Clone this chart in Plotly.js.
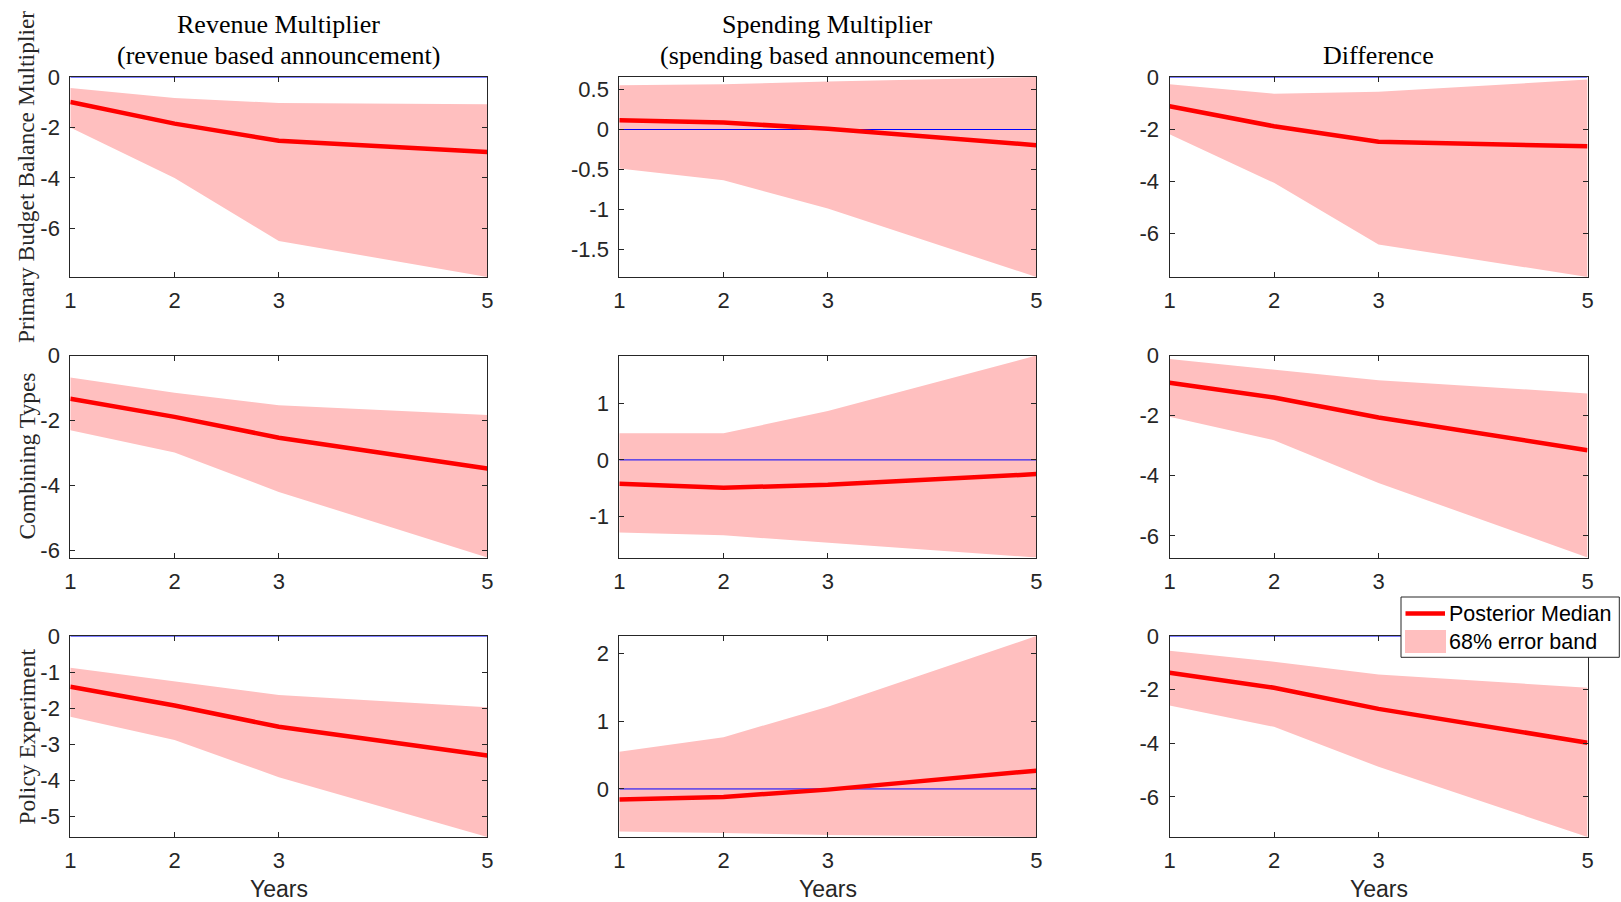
<!DOCTYPE html>
<html>
<head>
<meta charset="utf-8">
<script src="https://cdn.plot.ly/plotly-3.0.1.min.js"></script>
<style>html,body{margin:0;padding:0;background:#fff;}#chart{width:1621px;height:902px;}</style>
</head>
<body>
<div id="chart"></div>
<script>
// ---------------- DATA ----------------
const years = [1, 2, 3, 5];
const xTicks = [1, 2, 3, 5];

const colTitles = [
  ["Revenue Multiplier", "(revenue based announcement)"],
  ["Spending Multiplier", "(spending based announcement)"],
  ["", "Difference"]
];
const rowTitles = ["Primary Budget Balance Multiplier", "Combining Types", "Policy Experiment"];
const xLabel = "Years";
const legendLabels = ["Posterior Median", "68% error band"];

// Row 1: Primary Budget Balance Multiplier
const rev1_med = [-0.99, -1.85, -2.53, -2.97];
const rev1_lo  = [-2.00, -4.00, -6.50, -7.93];
const rev1_hi  = [-0.44, -0.83, -1.03, -1.08];
const spd1_med = [0.116, 0.087, 0.008, -0.196];
const spd1_lo  = [-0.488, -0.634, -0.99, -1.846];
const spd1_hi  = [0.554, 0.566, 0.600, 0.657];
const dif1_med = [-1.12, -1.89, -2.48, -2.66];
const dif1_lo  = [-2.20, -4.06, -6.42, -7.67];
const dif1_hi  = [-0.28, -0.64, -0.57, -0.10];

// Row 2: Combining Types
const rev2_med = [-1.33, -1.89, -2.53, -3.48];
const rev2_lo  = [-2.30, -2.99, -4.20, -6.22];
const rev2_hi  = [-0.68, -1.15, -1.53, -1.83];
const spd2_med = [-0.42, -0.49, -0.44, -0.25];
const spd2_lo  = [-1.28, -1.33, -1.46, -1.72];
const spd2_hi  = [0.47, 0.47, 0.86, 1.84];
const dif2_med = [-0.91, -1.40, -2.06, -3.15];
const dif2_lo  = [-2.04, -2.82, -4.24, -6.72];
const dif2_hi  = [-0.12, -0.47, -0.82, -1.26];

// Row 3: Policy Experiment
const rev3_med = [-1.41, -1.93, -2.52, -3.32];
const rev3_lo  = [-2.24, -2.89, -3.92, -5.58];
const rev3_hi  = [-0.88, -1.27, -1.64, -1.98];
const spd3_med = [-0.157, -0.118, -0.01, 0.27];
const spd3_lo  = [-0.63, -0.65, -0.68, -0.71];
const spd3_hi  = [0.55, 0.765, 1.215, 2.26];
const dif3_med = [-1.37, -1.93, -2.72, -3.98];
const dif3_lo  = [-2.59, -3.39, -4.88, -7.50];
const dif3_hi  = [-0.55, -0.96, -1.44, -1.93];

// y tick values per panel
const yt_r1c1 = [-6, -4, -2, 0];
const yt_r1c2 = [-1.5, -1, -0.5, 0, 0.5];
const yt_r1c3 = [-6, -4, -2, 0];
const yt_r2c1 = [-6, -4, -2, 0];
const yt_r2c2 = [-1, 0, 1];
const yt_r2c3 = [-6, -4, -2, 0];
const yt_r3c1 = [-5, -4, -3, -2, -1, 0];
const yt_r3c2 = [0, 1, 2];
const yt_r3c3 = [-6, -4, -2, 0];

// ---------------- BUILD ----------------
const panels = [
  [rev1_med, rev1_lo, rev1_hi, yt_r1c1], [spd1_med, spd1_lo, spd1_hi, yt_r1c2], [dif1_med, dif1_lo, dif1_hi, yt_r1c3],
  [rev2_med, rev2_lo, rev2_hi, yt_r2c1], [spd2_med, spd2_lo, spd2_hi, yt_r2c2], [dif2_med, dif2_lo, dif2_hi, yt_r2c3],
  [rev3_med, rev3_lo, rev3_hi, yt_r3c1], [spd3_med, spd3_lo, spd3_hi, yt_r3c2], [dif3_med, dif3_lo, dif3_hi, yt_r3c3]
];

const W = 1621, H = 902;
const colPx = [[70.3, 487.3], [619.3, 1036.3], [1169.5, 1587.5]];
const rowPx = [[77, 277], [355.5, 557.5], [636, 837]];
const px = p => p / W;
const py = p => 1 - p / H;

const AXC = '#262626';
const SANS = 'Liberation Sans, Arial, sans-serif';
const TICKFONT = {family: SANS, size: 22, color: AXC};
const SERIF = 'Liberation Serif, Times New Roman, serif';

const traces = [];
const layout = {
  width: W, height: H,
  margin: {l: 0, r: 0, t: 0, b: 0},
  paper_bgcolor: '#fff', plot_bgcolor: '#fff',
  showlegend: false,
  annotations: [], shapes: []
};

panels.forEach((p, k) => {
  const [med, lo, hi, yt] = p;
  const r = Math.floor(k / 3), c = k % 3;
  const id = k + 1;
  const xa = 'x' + id, ya = 'y' + id;
  const xs = years.concat(years.slice().reverse());
  const ys = hi.concat(lo.slice().reverse());
  traces.push({type: 'scatter', mode: 'lines', x: xs, y: ys, fill: 'toself',
    fillcolor: 'rgb(255,191,191)', line: {width: 0, color: 'rgba(0,0,0,0)'},
    xaxis: xa, yaxis: ya, hoverinfo: 'skip'});
  traces.push({type: 'scatter', mode: 'lines', x: [years[0], years[years.length - 1]], y: [0, 0],
    line: {color: '#0000ff', width: 1}, xaxis: xa, yaxis: ya, hoverinfo: 'skip'});
  traces.push({type: 'scatter', mode: 'lines', x: years, y: med,
    line: {color: '#ff0000', width: 4.5}, xaxis: xa, yaxis: ya});

  const ymin = Math.min(...lo);
  const ymax = Math.max(Math.max(...hi), 0);
  const xkey = 'xaxis' + (id === 1 ? '' : id);
  const ykey = 'yaxis' + (id === 1 ? '' : id);
  layout[xkey] = {
    domain: [px(colPx[c][0]), px(colPx[c][1])], anchor: ya,
    range: [years[0], years[years.length - 1]],
    tickvals: xTicks, ticktext: xTicks.map(String),
    ticks: 'inside', ticklen: 5, tickcolor: AXC, tickwidth: 1,
    showline: true, linecolor: AXC, linewidth: 1, mirror: 'ticks',
    showgrid: false, zeroline: false, tickfont: TICKFONT, ticklabelstandoff: 4
  };
  layout[ykey] = {
    domain: [py(rowPx[r][1]), py(rowPx[r][0])], anchor: xa,
    range: [ymin, ymax],
    tickvals: yt, ticktext: yt.map(String),
    ticks: 'inside', ticklen: 5, tickcolor: AXC, tickwidth: 1,
    showline: true, linecolor: AXC, linewidth: 1, mirror: 'ticks',
    showgrid: false, zeroline: false, tickfont: TICKFONT, ticklabelstandoff: 5
  };
});

// column titles
colTitles.forEach((t, c) => {
  const cx = px((colPx[c][0] + colPx[c][1]) / 2);
  if (t[0]) layout.annotations.push({xref: 'paper', yref: 'paper', x: cx, y: py(25), xanchor: 'center', yanchor: 'middle',
    text: t[0], showarrow: false, font: {family: SERIF, size: 26, color: '#000'}});
  if (t[1]) layout.annotations.push({xref: 'paper', yref: 'paper', x: cx, y: py(55), xanchor: 'center', yanchor: 'middle',
    text: t[1], showarrow: false, font: {family: SERIF, size: 26, color: '#000'}});
});
// row titles
rowTitles.forEach((t, r) => {
  layout.annotations.push({xref: 'paper', yref: 'paper', x: px(26), y: py((rowPx[r][0] + rowPx[r][1]) / 2),
    xanchor: 'center', yanchor: 'middle', textangle: -90, text: t, showarrow: false,
    font: {family: SERIF, size: 23.5, color: AXC}});
});
// x labels
colPx.forEach(cp => {
  layout.annotations.push({xref: 'paper', yref: 'paper', x: px((cp[0] + cp[1]) / 2), y: py(889),
    xanchor: 'center', yanchor: 'middle', text: xLabel, showarrow: false,
    font: {family: SANS, size: 23, color: AXC}});
});

// legend (drawn as layout decoration)
layout.shapes.push({type: 'rect', xref: 'paper', yref: 'paper', layer: 'above',
  x0: px(1401), x1: px(1619.3), y0: py(657.3), y1: py(597), fillcolor: '#fff', line: {color: AXC, width: 1}});
layout.shapes.push({type: 'line', xref: 'paper', yref: 'paper', layer: 'above',
  x0: px(1405.5), x1: px(1445), y0: py(613.5), y1: py(613.5), line: {color: '#ff0000', width: 4.5}});
layout.shapes.push({type: 'rect', xref: 'paper', yref: 'paper', layer: 'above',
  x0: px(1405), x1: px(1446), y0: py(653), y1: py(630), fillcolor: 'rgb(255,191,191)', line: {width: 0}});
layout.annotations.push({xref: 'paper', yref: 'paper', x: px(1447), y: py(614), xanchor: 'left', yanchor: 'middle',
  text: legendLabels[0], showarrow: false, font: {family: SANS, size: 21.5, color: '#000'}});
layout.annotations.push({xref: 'paper', yref: 'paper', x: px(1447), y: py(642), xanchor: 'left', yanchor: 'middle',
  text: legendLabels[1], showarrow: false, font: {family: SANS, size: 21.5, color: '#000'}});

Plotly.newPlot('chart', traces, layout, {displayModeBar: false, staticPlot: true});
</script>
</body>
</html>
